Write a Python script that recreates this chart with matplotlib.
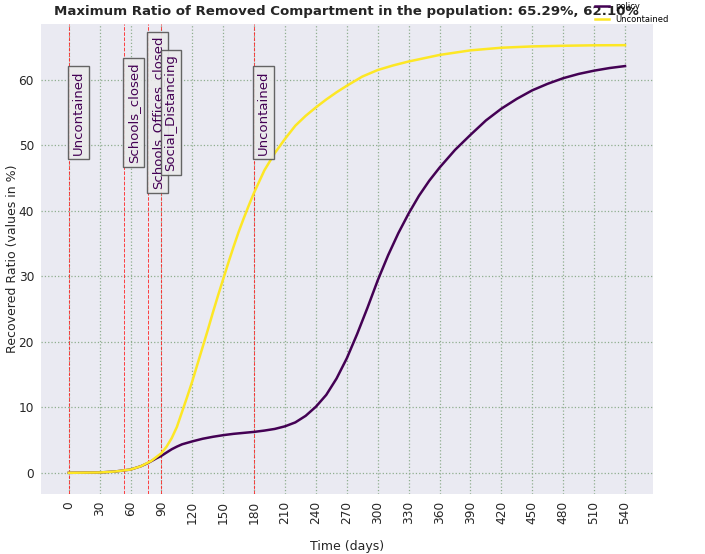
import matplotlib
matplotlib.use("Agg")
import matplotlib.pyplot as plt

# ---- data ----
days_u = [0, 30, 45, 60, 70, 80, 90, 95, 100, 105, 110, 115, 120, 125, 130, 135, 140, 145,
          150, 155, 160, 165, 170, 175, 180, 190, 200, 210, 220, 230, 240, 250, 260, 270,
          285, 300, 315, 330, 345, 360, 390, 420, 450, 480, 510, 540]
uncontained = [0.0, 0.05, 0.2, 0.5, 1.0, 1.8, 3.0, 4.0, 5.3, 7.0, 9.3, 11.6, 14.0, 16.6,
               19.2, 21.8, 24.5, 27.1, 29.6, 32.1, 34.5, 36.8, 38.9, 40.9, 42.8, 46.2, 48.8,
               51.0, 53.0, 54.5, 55.8, 57.0, 58.1, 59.1, 60.5, 61.5, 62.2, 62.8, 63.3, 63.8,
               64.5, 64.9, 65.1, 65.2, 65.27, 65.29]
days_p = [0, 30, 45, 60, 70, 77, 85, 90, 95, 100, 105, 110, 120, 130, 140, 150, 160, 170,
          180, 190, 200, 210, 220, 230, 240, 250, 260, 270, 280, 290, 300, 310, 320, 330,
          340, 350, 360, 375, 390, 405, 420, 435, 450, 465, 480, 495, 510, 525, 540]
policy = [0.0, 0.05, 0.2, 0.5, 1.0, 1.5, 2.2, 2.6, 3.1, 3.6, 4.0, 4.35, 4.8, 5.2, 5.5,
          5.75, 5.95, 6.1, 6.25, 6.45, 6.7, 7.1, 7.7, 8.7, 10.1, 11.9, 14.4, 17.5, 21.2,
          25.2, 29.4, 33.2, 36.6, 39.6, 42.3, 44.6, 46.6, 49.3, 51.6, 53.8, 55.6, 57.1,
          58.4, 59.4, 60.25, 60.9, 61.4, 61.8, 62.1]
event_days = [0, 54, 77, 90, 180]
event_labels = ["Uncontained", "Schools_closed", "Schools_Offices_closed",
                "Social_Distancing", "Uncontained"]
xticks = list(range(0, 541, 30))
title = "Maximum Ratio of Removed Compartment in the population: 65.29%, 62.10%"

fig = plt.figure(figsize=(7.05, 5.54), dpi=100)
ax = fig.add_axes([0.058, 0.108, 0.868, 0.849])
ax.set_facecolor("#EAEAF2")
for s in ax.spines.values():
    s.set_visible(False)

ax.grid(True, color="#8fae8f", linestyle=":", linewidth=0.9)
ax.set_axisbelow(True)

ax.plot(days_p, policy, color="#440154", lw=1.8, label="policy")
ax.plot(days_u, uncontained, color="#FDE725", lw=1.8, label="Uncontained")

for d, lab in zip(event_days, event_labels):
    ax.axvline(d, color="#ff2020", linestyle="--", lw=0.7, alpha=0.85, zorder=1.5)
    ax.text(d + 3, 55, lab, rotation=90, ha="left", va="center", fontsize=9.5,
            color="#440154",
            bbox=dict(boxstyle="square,pad=0.3", facecolor="#ebebeb", edgecolor="#555555",
                      alpha=0.9, linewidth=1))

ax.set_xticks(xticks)
ax.set_xticklabels([str(t) for t in xticks], rotation=90)
ax.tick_params(axis="both", length=0, labelsize=8.7, colors="#262626", pad=5)
ax.set_xlim(-27, 567)
ax.set_ylim(-3.26, 68.55)
ax.set_xlabel("Time (days)", fontsize=9, color="#262626")
ax.set_ylabel("Recovered Ratio (values in %)", fontsize=9, color="#262626")
ax.xaxis.set_label_coords(0.5, -0.098)
ax.yaxis.set_label_coords(-0.036, 0.5)
ax.set_title(title, fontsize=9.6, fontweight="bold", color="#262626", pad=6)

fig.legend(loc="upper left", bbox_to_anchor=(0.836, 1.007), fontsize=6, frameon=False,
           handlelength=1.6, handletextpad=0.8, borderaxespad=0.3, labelspacing=0.5)

fig.savefig("out.png", dpi=100, facecolor="white")
